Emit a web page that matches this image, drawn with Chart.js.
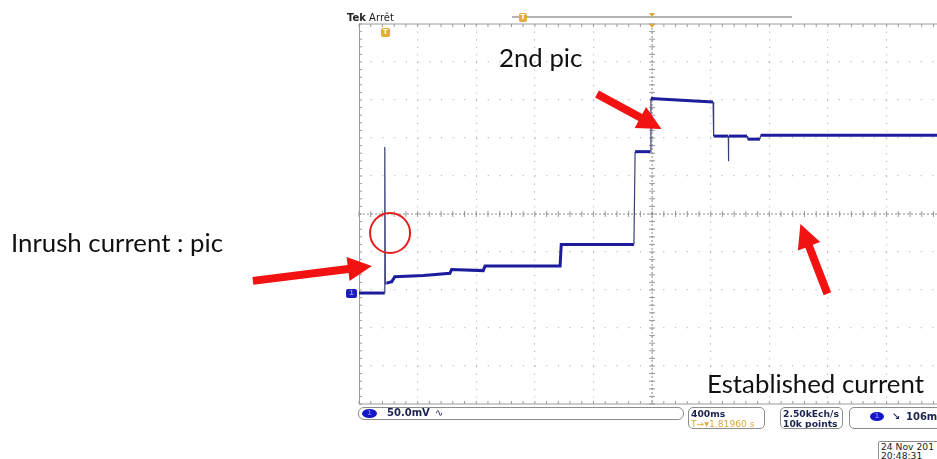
<!DOCTYPE html>
<html lang="fr">
<head>
  <meta charset="UTF-8">
  <title>Inrush current - scope capture</title>
  <style>
body {
  margin: 0;
  width: 937px;
  height: 459px;
  overflow: hidden;
  background: #fff;
  position: relative;
  font-family: "DejaVu Sans", sans-serif;
}
canvas { position: absolute; left: 0; top: 0; }
.note {
  position: absolute;
  font-family: Lato, "Open Sans", sans-serif;
  font-size: 25.8px;
  line-height: 1;
  color: #111;
  white-space: nowrap;
}
.box {
  position: absolute;
  border: 1px solid #8c8c8c;
  border-radius: 6px;
  background: #fff;
  font-size: 10px;
  font-weight: bold;
  color: #1b2450;
  line-height: 10px;
  white-space: nowrap;
  overflow: hidden;
}
.small { font-size: 9.2px; }
.tag {
  position: absolute;
  font-size: 7px;
  font-weight: bold;
  text-align: center;
  line-height: 9px;
}
.ch {
  position: absolute;
  background: #1414c8;
  color: #6a6aff;
  border-radius: 50%;
  font-size: 7px;
  text-align: center;
}
  </style>
</head>
<body>
  <canvas id="scope" width="937" height="459"></canvas>

  <!-- scope header -->
  <div style="position:absolute;left:347px;top:12px;font-size:10px;color:#222;"><b>Tek</b> Arrêt</div>
  <div style="position:absolute;left:512px;top:16px;width:280px;height:2px;background:#b4b4b4;"></div>
  <div class="tag" style="left:519px;top:13px;width:8px;height:9px;background:#e3ad3c;color:#fff;border-radius:2px;">T</div>
  <div style="position:absolute;left:649px;top:13px;width:0;height:0;border-left:3px solid transparent;border-right:3px solid transparent;border-top:4px solid #e3a53a;"></div>
  <div style="position:absolute;left:649px;top:24px;width:0;height:0;border-left:3px solid transparent;border-right:3px solid transparent;border-top:4px solid #e3a53a;"></div>
  <div class="tag" style="left:381px;top:28px;width:9px;height:9px;background:#e3ad3c;color:#fff;border-radius:2px;">T</div>
  <div class="tag" style="left:346px;top:289px;width:11px;height:9px;background:#1c1cc0;color:#8a8aff;border-radius:2px;">1</div>

  <!-- annotations -->
  <div class="note" style="left:11px;top:230px;">Inrush current : pic</div>
  <div class="note" style="left:499px;top:45px;">2nd pic</div>
  <div class="note" style="left:707px;top:371px;">Established current</div>

  <!-- status bar -->
  <div class="box" style="left:358px;top:407px;width:324px;height:11px;">
    <span class="ch" style="left:3px;top:1px;width:15px;height:9px;line-height:9px;">1</span>
    <span style="position:absolute;left:28px;top:0;">50.0mV</span>
    <span style="position:absolute;left:76px;top:0;font-weight:normal;">∿</span>
  </div>
  <div class="box small" style="left:688px;top:407px;width:75px;height:20px;border-radius:5px;">
    <span style="position:absolute;left:2px;top:1px;">400ms</span>
    <span style="position:absolute;left:2px;top:11px;color:#e0a83c;font-weight:normal;">T→▾1.81960 s</span>
  </div>
  <div class="box small" style="left:780px;top:407px;width:61px;height:20px;border-radius:5px;">
    <span style="position:absolute;left:2px;top:1px;">2.50kEch/s</span>
    <span style="position:absolute;left:2px;top:11px;">10k points</span>
  </div>
  <div class="box" style="left:849px;top:407px;width:100px;height:20px;border-radius:5px;">
    <span class="ch" style="left:20px;top:4px;width:14px;height:9px;line-height:9px;">1</span>
    <span style="position:absolute;left:42px;top:4px;">↘</span>
    <span style="position:absolute;left:56px;top:4px;">106mV</span>
  </div>
  <div class="box small" style="left:878px;top:441px;width:70px;height:18px;border-radius:2px;font-weight:normal;color:#222;">
    <span style="position:absolute;left:2px;top:0;">24 Nov 201</span>
    <span style="position:absolute;left:2px;top:9px;">20:48:31</span>
  </div>

  <script src="https://cdn.jsdelivr.net/npm/chart.js"></script>
  <script>
    // trace, in scope divisions (x: 400ms/div from left edge, y: 50mV/div from centre)
    const timeDiv = [0, 0.44, 0.44, 0.45, 0.47, 0.56, 0.61, 1.10, 1.55, 1.58, 2.12, 2.15, 3.43, 3.45,
      4.69, 4.71, 4.97, 4.98, 5.20, 6.04, 6.05, 6.30, 6.30, 6.31, 6.62, 6.63, 6.84, 6.85, 9.86];
    const levelDiv = [-2.08, -2.08, 1.76, -1.85, -1.82, -1.78, -1.65, -1.62, -1.56, -1.46, -1.49, -1.37, -1.37, -0.80,
      -0.80, 1.64, 1.64, 3.04, 3.02, 2.95, 2.05, 2.05, 1.39, 2.05, 2.05, 1.97, 1.97, 2.07, 2.07];

    // graticule: 10 x 10 divisions, right side cut off by the crop
    const xDivMax = 9.86;
    const yDivs = [-5, 5];

    // red annotations, in divisions
    const arrows = [
      { from: [-1.81, -1.76], to: [0.22, -1.37] },
      { from: [4.06, 3.16], to: [5.16, 2.24] },
      { from: [7.99, -2.10], to: [7.53, -0.26] }
    ];
    const ring = { at: [0.53, -0.50], r: 20 };

    const trace = timeDiv.map((t, i) => ({ x: t, y: levelDiv[i] }));

    function isStep(ctx) {
      return Math.abs(ctx.p0.parsed.x - ctx.p1.parsed.x) < 0.02;
    }

    const scopeDecor = {
      id: 'scopeDecor',
      beforeDatasetsDraw(chart) {
        const { ctx, chartArea: a, scales: { x, y } } = chart;
        ctx.save();
        ctx.strokeStyle = '#9c9c9c';
        ctx.lineWidth = 1;
        // frame
        ctx.beginPath();
        ctx.moveTo(a.left, a.top); ctx.lineTo(a.right, a.top);
        ctx.moveTo(a.left + 0.5, a.top); ctx.lineTo(a.left + 0.5, a.bottom);
        ctx.moveTo(a.left, a.bottom); ctx.lineTo(a.right, a.bottom);
        ctx.stroke();
        // minor ticks on frame and centre cross
        const xc = x.getPixelForValue(5), yc = y.getPixelForValue(0);
        ctx.beginPath();
        for (let v = 0; v <= xDivMax + 0.001; v += 0.2) {
          const px = x.getPixelForValue(v);
          ctx.moveTo(px, a.top); ctx.lineTo(px, a.top + 3);
          ctx.moveTo(px, a.bottom); ctx.lineTo(px, a.bottom - 3);
          ctx.moveTo(px, yc - 3); ctx.lineTo(px, yc + 3);
        }
        for (let v = yDivs[0]; v <= yDivs[1] + 0.001; v += 0.2) {
          const py = y.getPixelForValue(v);
          ctx.moveTo(a.left, py); ctx.lineTo(a.left + 3, py);
          ctx.moveTo(xc - 3, py); ctx.lineTo(xc + 3, py);
        }
        ctx.stroke();
        ctx.setLineDash([2, 2]);
        ctx.strokeStyle = '#8a8a8a';
        ctx.beginPath();
        ctx.moveTo(a.left, yc); ctx.lineTo(a.right, yc);
        ctx.moveTo(xc, a.top); ctx.lineTo(xc, a.bottom);
        ctx.stroke();
        ctx.restore();
      },
      afterDraw(chart) {
        const { ctx, scales: { x, y } } = chart;
        ctx.save();
        ctx.fillStyle = '#f21212';
        arrows.forEach(ar => {
          const x0 = x.getPixelForValue(ar.from[0]), y0 = y.getPixelForValue(ar.from[1]);
          const x1 = x.getPixelForValue(ar.to[0]), y1 = y.getPixelForValue(ar.to[1]);
          const len = Math.hypot(x1 - x0, y1 - y0);
          const ux = (x1 - x0) / len, uy = (y1 - y0) / len;
          const nx = -uy, ny = ux;
          const head = 24, hw = 12, sw = 4;
          const bx = x1 - ux * head, by = y1 - uy * head;
          ctx.beginPath();
          ctx.moveTo(x0 + nx * sw, y0 + ny * sw);
          ctx.lineTo(bx + nx * sw, by + ny * sw);
          ctx.lineTo(bx + nx * hw, by + ny * hw);
          ctx.lineTo(x1, y1);
          ctx.lineTo(bx - nx * hw, by - ny * hw);
          ctx.lineTo(bx - nx * sw, by - ny * sw);
          ctx.lineTo(x0 - nx * sw, y0 - ny * sw);
          ctx.closePath();
          ctx.fill();
        });
        ctx.strokeStyle = '#e81c1c';
        ctx.lineWidth = 2;
        ctx.beginPath();
        ctx.arc(x.getPixelForValue(ring.at[0]), y.getPixelForValue(ring.at[1]), ring.r, 0, Math.PI * 2);
        ctx.stroke();
        ctx.restore();
      }
    };

    new Chart(document.getElementById('scope'), {
      type: 'line',
      data: {
        datasets: [{
          data: trace,
          borderColor: '#1c1c9c',
          borderWidth: 2.8,
          pointRadius: 0,
          tension: 0,
          segment: {
            borderWidth: ctx => isStep(ctx) ? 1.2 : 3,
            borderColor: ctx => isStep(ctx) ? '#3a3f78' : '#1c1c9c'
          }
        }]
      },
      options: {
        responsive: false,
        animation: false,
        layout: { padding: { left: 359, top: 24, right: 0, bottom: 55 } },
        plugins: { legend: { display: false }, tooltip: { enabled: false } },
        scales: {
          x: {
            type: 'linear',
            min: 0,
            max: xDivMax,
            ticks: { display: false, stepSize: 1 },
            afterBuildTicks: s => { s.ticks = s.ticks.filter(t => Number.isInteger(t.value) && t.value > 0); },
            grid: { color: '#bdbdbd', lineWidth: 1.2, drawTicks: false },
            border: { display: false, dash: [1.2, 6.4] }
          },
          y: {
            min: yDivs[0],
            max: yDivs[1],
            ticks: { display: false, stepSize: 1 },
            afterBuildTicks: s => { s.ticks = s.ticks.filter(t => Number.isInteger(t.value) && t.value > yDivs[0] && t.value < yDivs[1]); },
            grid: { color: '#bdbdbd', lineWidth: 1.2, drawTicks: false },
            border: { display: false, dash: [1.2, 10.5] }
          }
        }
      },
      plugins: [scopeDecor]
    });
  </script>
</body>
</html>
